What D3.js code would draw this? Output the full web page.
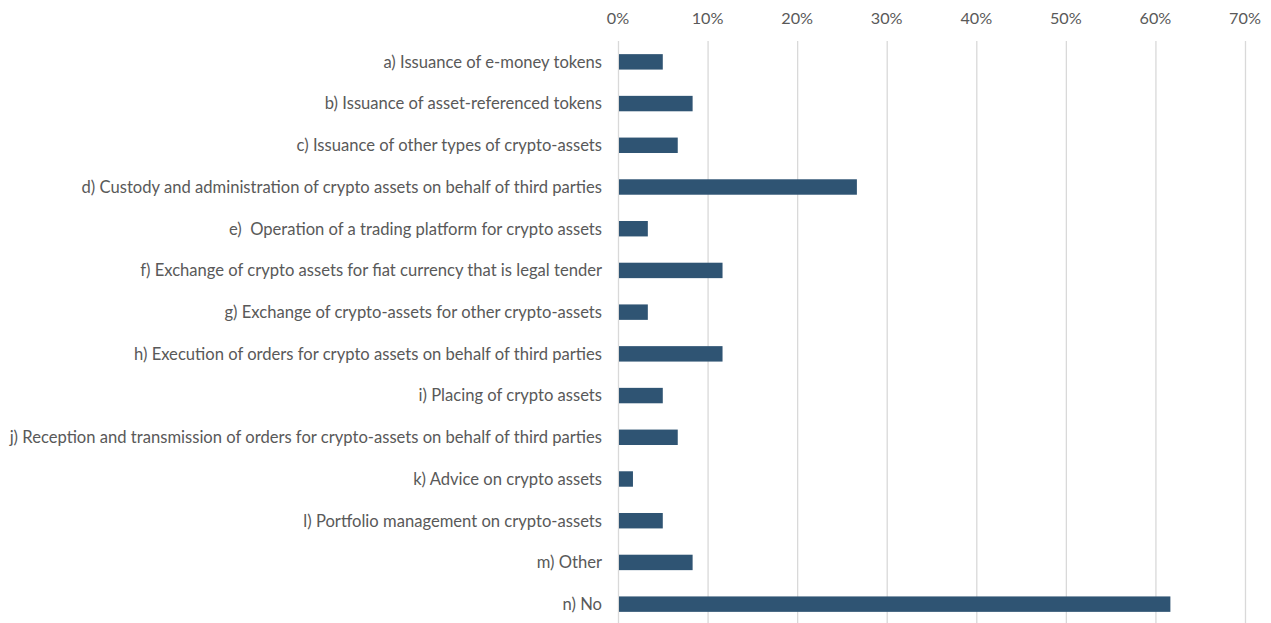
<!DOCTYPE html>
<html>
<head>
<meta charset="utf-8">
<script src="https://cdn.jsdelivr.net/npm/d3@7"></script>
<style>
  body { margin: 0; background: #fff; }
  svg text { font-family: Lato, "Open Sans", sans-serif; fill: #595959; }
  .grid line { stroke: #d9d9d9; stroke-width: 1.3; }
  .grid .domain { display: none; }
</style>
</head>
<body>
<svg id="chart" width="1271" height="623"></svg>
<script>
// Share of respondents per activity (n = 60)
const categories = [
  "a) Issuance of e-money tokens",
  "b) Issuance of asset-referenced tokens",
  "c) Issuance of other types of crypto-assets",
  "d) Custody and administration of crypto assets on behalf of third parties",
  "e)  Operation of a trading platform for crypto assets",
  "f) Exchange of crypto assets for fiat currency that is legal tender",
  "g) Exchange of crypto-assets for other crypto-assets",
  "h) Execution of orders for crypto assets on behalf of third parties",
  "i) Placing of crypto assets",
  "j) Reception and transmission of orders for crypto-assets on behalf of third parties",
  "k) Advice on crypto assets",
  "l) Portfolio management on crypto-assets",
  "m) Other",
  "n) No"
];
const values = [0.05, 0.0833, 0.0667, 0.2667, 0.0333, 0.1167, 0.0333, 0.1167, 0.05, 0.0667, 0.0167, 0.05, 0.0833, 0.6167];
const tickValues = [0, 0.1, 0.2, 0.3, 0.4, 0.5, 0.6, 0.7];

const margin = { top: 41, right: 26, bottom: 0, left: 618 };
const width = 1271, height = 623;
const innerWidth = width - margin.left - margin.right;
const innerHeight = height - margin.top - margin.bottom;

const svg = d3.select("#chart");
const plot = svg.append("g").attr("transform", `translate(${margin.left},${margin.top})`);

const x = d3.scaleLinear().domain([0, 0.7]).range([0, innerWidth]);
const y = d3.scaleBand().domain(categories).range([0, innerHeight + 2]).paddingInner(0.63).paddingOuter(0.315);

// Vertical gridlines
plot.append("g")
  .attr("class", "grid")
  .call(d3.axisTop(x).tickValues(tickValues).tickSize(-innerHeight).tickFormat(""));

// Top tick labels
plot.append("g")
  .selectAll("text")
  .data(tickValues)
  .join("text")
  .attr("x", (d) => x(d))
  .attr("y", -17)
  .attr("text-anchor", "middle")
  .attr("font-size", 16.2)
  .text(d3.format(".0%"));

// Bars
plot.append("g")
  .selectAll("rect")
  .data(categories)
  .join("rect")
  .attr("x", 1)
  .attr("y", (d) => y(d))
  .attr("width", (d, i) => x(values[i]) - 1)
  .attr("height", y.bandwidth())
  .attr("fill", "#2f5473");

// Category labels
plot.append("g")
  .selectAll("text")
  .data(categories)
  .join("text")
  .attr("x", -16)
  .attr("y", (d) => y(d) + y.bandwidth() / 2)
  .attr("dy", "0.35em")
  .attr("text-anchor", "end")
  .attr("font-size", 16.6)
  .attr("xml:space", "preserve")
  .style("white-space", "pre")
  .text((d) => d);
</script>
</body>
</html>
